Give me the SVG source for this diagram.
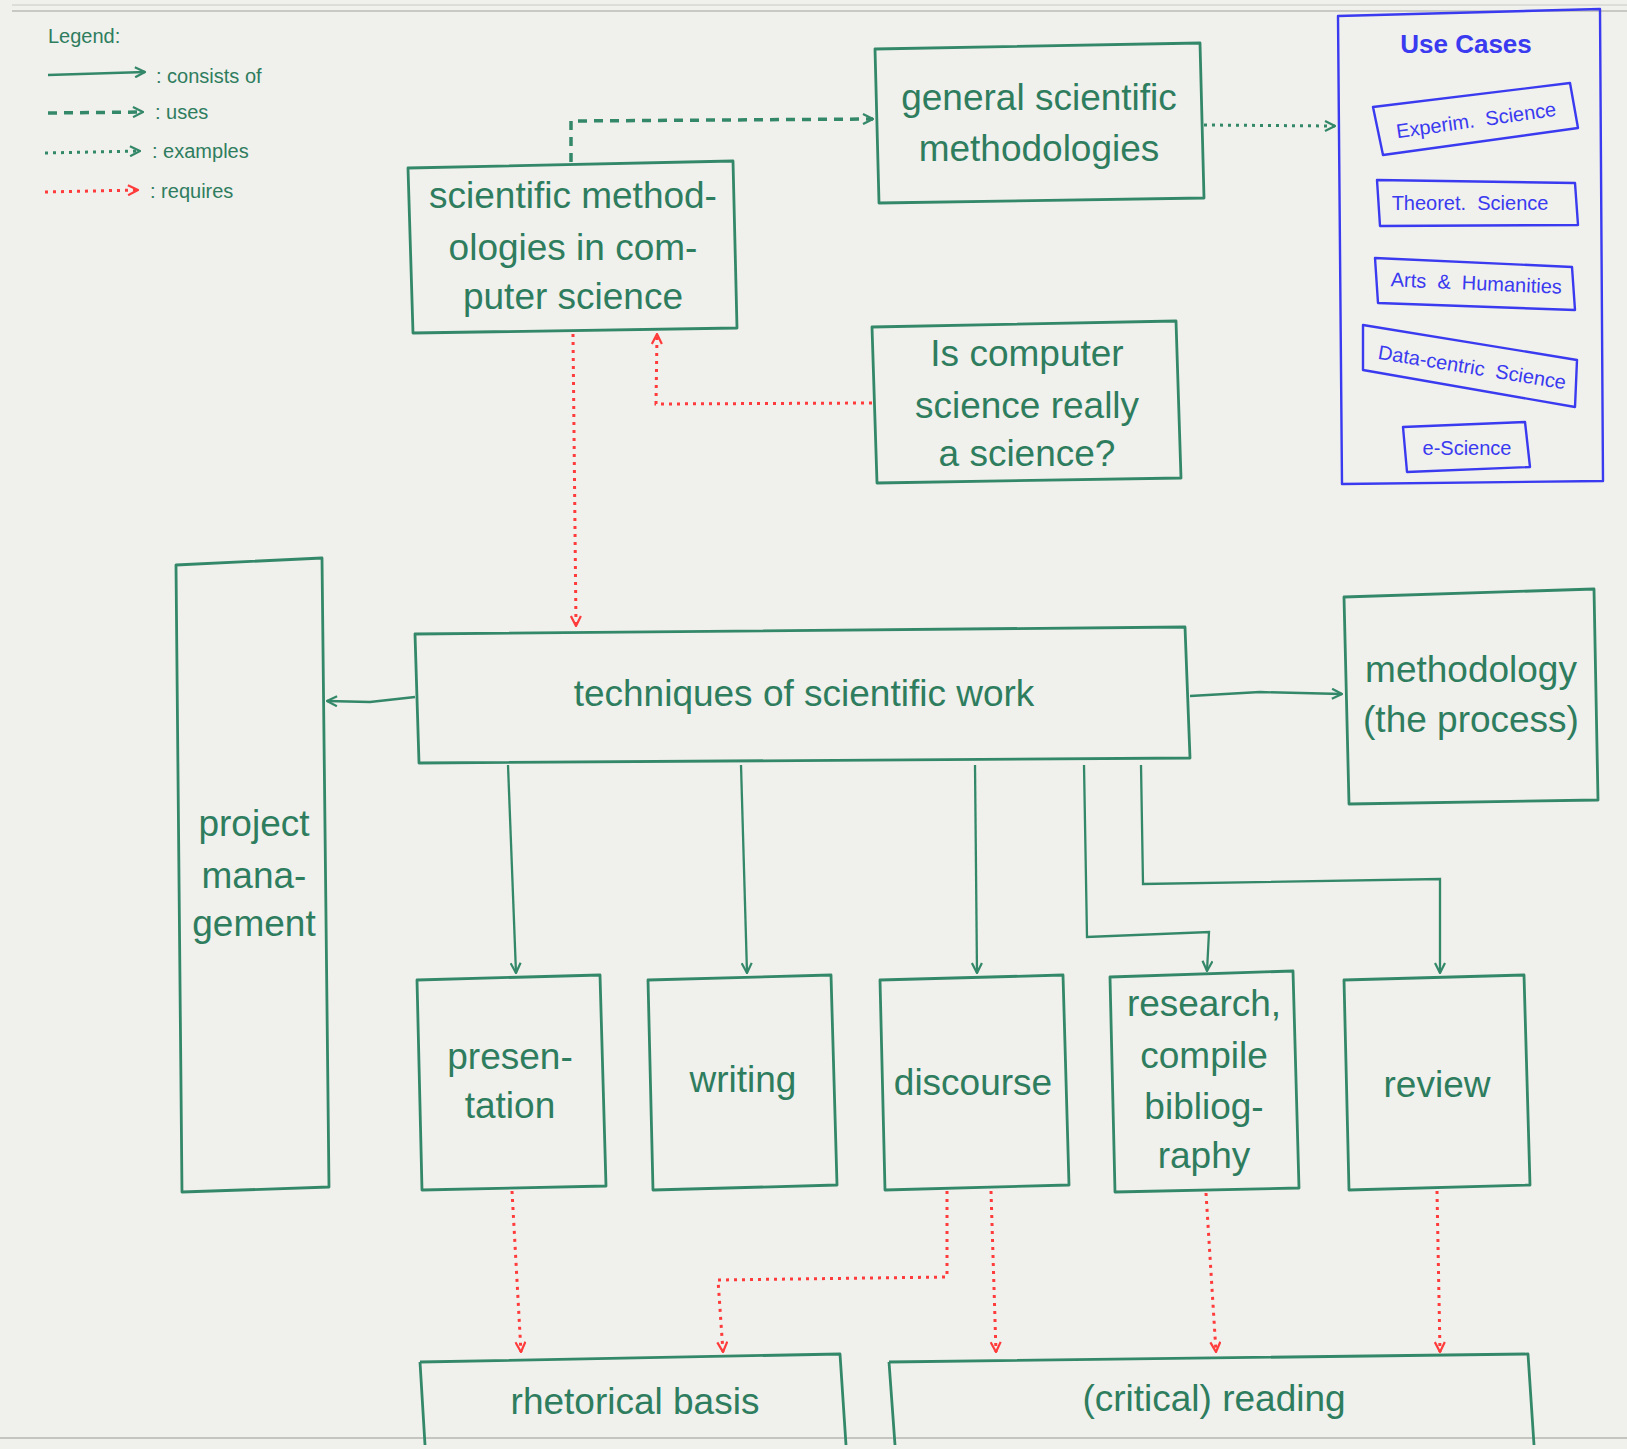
<svg xmlns="http://www.w3.org/2000/svg" width="1627" height="1449" viewBox="0 0 1627 1449">
<style>
.bg{fill:#f0f0ec}
.box{fill:none;stroke:#34886a;stroke-width:2.8;stroke-linejoin:round}
.ubox{fill:none;stroke:#3a3af0;stroke-width:2.4;stroke-linejoin:round}
.t{font-family:"Liberation Sans",Arial,sans-serif;font-size:37px;fill:#2e7d5e;text-anchor:middle}
.lg{font-family:"Liberation Sans",Arial,sans-serif;font-size:20px;fill:#2e7d5e}
.ut{font-family:"Liberation Sans",Arial,sans-serif;font-size:20px;fill:#3a3af0;text-anchor:middle}
.uh{font-family:"Liberation Sans",Arial,sans-serif;font-size:26px;font-weight:bold;fill:#3a3af0;text-anchor:middle}
.cons{fill:none;stroke:#34886a;stroke-width:2.3;marker-end:url(#ag)}
.uses{fill:none;stroke:#34886a;stroke-width:3.5;stroke-dasharray:9 7;marker-end:url(#ag)}
.ex{fill:none;stroke:#34886a;stroke-width:3;stroke-dasharray:3 5;marker-end:url(#ag)}
.req{fill:none;stroke:#ff3b3b;stroke-width:3;stroke-dasharray:3 5;marker-end:url(#ar)}
</style>
<defs>
<marker id="ag" viewBox="0 0 12 12" refX="11" refY="6" markerWidth="12" markerHeight="12" orient="auto" markerUnits="userSpaceOnUse">
<path d="M1,1 L11,6 L1,11" fill="none" stroke="#34886a" stroke-width="2.2"/>
</marker>
<marker id="ar" viewBox="0 0 12 12" refX="11" refY="6" markerWidth="12" markerHeight="12" orient="auto" markerUnits="userSpaceOnUse">
<path d="M1,1 L11,6 L1,11" fill="none" stroke="#ff3b3b" stroke-width="2.2"/>
</marker>
</defs>
<rect class="bg" x="0" y="0" width="1627" height="1449"/>
<line x1="12" y1="5" x2="1627" y2="5" stroke="#dcdcd8" stroke-width="2"/>
<line x1="12" y1="11" x2="1627" y2="11" stroke="#c8c8c4" stroke-width="2"/>
<line x1="0" y1="1438" x2="1627" y2="1438" stroke="#c4c4c0" stroke-width="2"/>

<g id="legend">
<text class="lg" x="48" y="43">Legend:</text>
<path class="cons" d="M48,75 L145,72"/>
<text class="lg" x="156" y="83">: consists of</text>
<path class="uses" d="M48,113 L143,112"/>
<text class="lg" x="155" y="119">: uses</text>
<path class="ex" d="M45,153 L140,151"/>
<text class="lg" x="152" y="158">: examples</text>
<path class="req" d="M45,192 L138,190"/>
<text class="lg" x="150" y="198">: requires</text>
</g>

<g id="connectors">
<path class="uses" d="M571,162 L571,121 L873,119"/>
<path class="ex" d="M1204,125 L1335,126"/>
<path class="req" d="M872,403 L656,404 L657,334"/>
<path class="req" d="M573,334 L576,626"/>
<path class="cons" d="M415,697 L370,702 L327,701"/>
<path class="cons" d="M1190,696 L1260,692 L1342,694"/>
<path class="cons" d="M508,765 L516,973"/>
<path class="cons" d="M741,765 L747,973"/>
<path class="cons" d="M975,765 L977,973"/>
<path class="cons" d="M1084,765 L1087,937 L1209,932 L1207,971"/>
<path class="cons" d="M1141,765 L1143,884 L1440,879 L1440,973"/>
<path class="req" d="M512,1191 L521,1352"/>
<path class="req" d="M947,1191 L947,1277 L718,1280 L723,1352"/>
<path class="req" d="M991,1191 L996,1352"/>
<path class="req" d="M1206,1193 L1216,1352"/>
<path class="req" d="M1437,1191 L1440,1352"/>
</g>

<g id="n-general">
<path class="box" d="M875,49 L1200,43 L1204,198 L879,203 Z"/>
<text class="t" x="1039" y="110">general scientific</text>
<text class="t" x="1039" y="161">methodologies</text>
</g>

<g id="n-csmeth">
<path class="box" d="M408,168 L733,161 L737,328 L413,333 Z"/>
<text class="t" x="573" y="208">scientific method-</text>
<text class="t" x="573" y="260">ologies in com-</text>
<text class="t" x="573" y="309">puter science</text>
</g>

<g id="n-iscs">
<path class="box" d="M872,327 L1176,321 L1181,478 L877,483 Z"/>
<text class="t" x="1027" y="366">Is computer</text>
<text class="t" x="1027" y="418">science really</text>
<text class="t" x="1027" y="466">a science?</text>
</g>

<g id="n-usecases">
<path class="ubox" d="M1338,16 L1600,9 L1603,481 L1342,484 Z"/>
<text class="uh" x="1466" y="53">Use Cases</text>
<g>
<path class="ubox" d="M1373,107 L1570,83 L1578,128 L1383,155 Z"/>
<text class="ut" xml:space="preserve" transform="translate(1477,127) rotate(-8)" x="0" y="0">Experim.  Science</text>
</g>
<g>
<path class="ubox" d="M1377,180 L1575,183 L1578,225 L1380,226 Z"/>
<text class="ut" xml:space="preserve" x="1470" y="210">Theoret.  Science</text>
</g>
<g>
<path class="ubox" d="M1375,258 L1572,267 L1575,310 L1378,303 Z"/>
<text class="ut" xml:space="preserve" transform="translate(1476,290) rotate(2.5)" x="0" y="0">Arts  &amp;  Humanities</text>
</g>
<g>
<path class="ubox" d="M1363,325 L1577,360 L1575,407 L1363,370 Z"/>
<text class="ut" xml:space="preserve" transform="translate(1471,374) rotate(9.3)" x="0" y="0">Data-centric  Science</text>
</g>
<g>
<path class="ubox" d="M1403,427 L1525,422 L1530,467 L1407,472 Z"/>
<text class="ut" x="1467" y="455">e-Science</text>
</g>
</g>

<g id="n-techniques">
<path class="box" d="M415,634 L1185,627 L1190,758 L419,763 Z"/>
<text class="t" x="804" y="706">techniques of scientific work</text>
</g>

<g id="n-methodology">
<path class="box" d="M1344,597 L1594,589 L1598,800 L1349,804 Z"/>
<text class="t" x="1471" y="682">methodology</text>
<text class="t" x="1471" y="732">(the process)</text>
</g>

<g id="n-project">
<path class="box" d="M176,565 L322,558 L329,1187 L182,1192 Z"/>
<text class="t" x="254" y="836">project</text>
<text class="t" x="254" y="888">mana-</text>
<text class="t" x="254" y="936">gement</text>
</g>

<g id="n-presentation">
<path class="box" d="M417,980 L600,975 L606,1186 L422,1190 Z"/>
<text class="t" x="510" y="1069">presen-</text>
<text class="t" x="510" y="1118">tation</text>
</g>

<g id="n-writing">
<path class="box" d="M648,980 L831,975 L837,1185 L653,1190 Z"/>
<text class="t" x="743" y="1092">writing</text>
</g>

<g id="n-discourse">
<path class="box" d="M880,980 L1063,975 L1069,1185 L885,1190 Z"/>
<text class="t" x="973" y="1095">discourse</text>
</g>

<g id="n-research">
<path class="box" d="M1110,977 L1293,971 L1299,1188 L1115,1192 Z"/>
<text class="t" x="1204" y="1016">research,</text>
<text class="t" x="1204" y="1068">compile</text>
<text class="t" x="1204" y="1119">bibliog-</text>
<text class="t" x="1204" y="1168">raphy</text>
</g>

<g id="n-review">
<path class="box" d="M1344,980 L1524,975 L1530,1185 L1349,1190 Z"/>
<text class="t" x="1437" y="1097">review</text>
</g>

<g id="n-rhetorical">
<path class="box" d="M420,1362 L840,1354 L846,1445 M425,1445 L420,1362"/>
<text class="t" x="635" y="1414">rhetorical basis</text>
</g>

<g id="n-reading">
<path class="box" d="M889,1362 L1528,1354 L1534,1445 M895,1445 L889,1362"/>
<text class="t" x="1214" y="1411">(critical) reading</text>
</g>
</svg>
